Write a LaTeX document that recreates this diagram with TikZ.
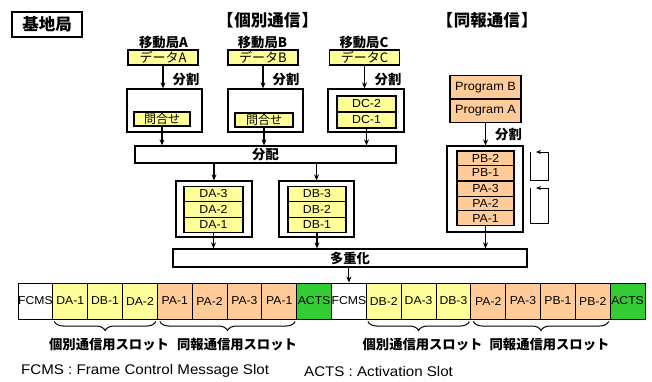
\documentclass[tikz,border=0pt]{standalone}
\usepackage{fontspec}
\setmainfont{Liberation Sans}[FakeStretch=1.06]
\newfontfamily\jp{Noto Sans CJK JP}
\newfontfamily\lgfont{Liberation Sans}[FakeStretch=1.08]
\usetikzlibrary{arrows.meta,decorations.pathreplacing,calc}
\definecolor{yel}{HTML}{FFFF99}
\definecolor{pch}{HTML}{FFCC99}
\definecolor{grn}{HTML}{33CC33}
\begin{document}
\begin{tikzpicture}[x=1pt,y=-1pt,
  bx/.style={draw, line width=1.3pt, inner sep=0pt, anchor=center},
  ybx/.style={bx, fill=yel},
  pbx/.style={bx, fill=pch},
  lab/.style={inner sep=0pt, font=\jp\bfseries\fontsize{13.3}{13.3}\selectfont},
  ttl/.style={inner sep=0pt, font=\jp\bfseries\fontsize{16.5}{16.5}\selectfont},
  jpin/.style={font=\jp\fontsize{13}{13}\selectfont},
  ltin/.style={font=\fontsize{11.6}{11.6}\selectfont},
  arr/.style={line width=1.1pt, -{Stealth[length=6pt,width=5pt]}},
  loopline/.style={line width=1pt, -{Stealth[length=5pt,width=4pt]}},
  slot/.style={draw, line width=1pt, inner sep=0pt, minimum width=34.83pt, minimum height=36pt, font=\fontsize{11.5}{11.5}\selectfont},
  brc/.style={decorate, decoration={brace, mirror, amplitude=9pt}, line width=1pt},
  ]
\useasboundingbox (0,0) rectangle (652,381);

% headings
\node[bx, minimum width=70pt, minimum height=25pt, font=\jp\bfseries\fontsize{16.5}{16.5}\selectfont] (base) at (47,24.5) {基地局};
\node[ttl] (t1) at (267.5,20) {【\kern1pt個別通信\kern1pt】};
\node[ttl] (t2) at (487,20) {【\kern1pt同報通信\kern1pt】};

% mobile stations
\node[lab] (mA) at (163.5,43) {移動局A};
\node[lab] (mB) at (262.5,43) {移動局B};
\node[lab] (mC) at (364,43) {移動局C};

\node[ybx, jpin, minimum width=70pt, minimum height=15pt] (dA) at (163,57.5) {データA};
\node[ybx, jpin, minimum width=70pt, minimum height=15pt] (dB) at (263,57.5) {データB};
\node[ybx, jpin, minimum width=70pt, minimum height=15pt] (dC) at (364.5,57.5) {データC};

\node[bx, minimum width=75pt, minimum height=43pt] (oA) at (164.5,110.5) {};
\node[bx, minimum width=75pt, minimum height=43pt] (oB) at (265.5,110.5) {};
\node[bx, minimum width=76pt, minimum height=43pt] (oC) at (366,110.5) {};

\node[ybx, font=\jp\fontsize{12}{12}\selectfont, minimum width=56pt, minimum height=14pt] (qA) at (162,119) {問合せ};
\node[ybx, font=\jp\fontsize{12}{12}\selectfont, minimum width=58pt, minimum height=14pt] (qB) at (264,120) {問合せ};
\node[ybx, ltin, minimum width=59pt, minimum height=16pt] (c2) at (366.5,104) {DC-2};
\node[ybx, ltin, minimum width=59pt, minimum height=16pt] (c1) at (366.5,120) {DC-1};

\draw[arr] (dA.south) -- (dA.south |- oA.north);
\draw[arr] (dB.south) -- (dB.south |- oB.north);
\draw[arr] (dC.south) -- (dC.south |- oC.north);
\node[lab] (sA) at (186,80) {分割};
\node[lab] (sB) at (286,80) {分割};
\node[lab] (sC) at (388,80) {分割};

% distribution
\node[bx, lab, minimum width=261pt, minimum height=17pt] (dist) at (265.5,154.5) {分配};
\draw[arr] (qA.south) -- (qA.south |- dist.north);
\draw[arr] (qB.south) -- (qB.south |- dist.north);
\draw[arr] (c1.south) -- (c1.south |- dist.north);

% DA / DB queues
\node[bx, minimum width=76pt, minimum height=56pt] (oDA) at (214,209) {};
\node[ybx, ltin, minimum width=59pt, minimum height=15.5pt] (a3) at (213.5,194) {DA-3};
\node[ybx, ltin, minimum width=59pt, minimum height=15.5pt] (a2) at (213.5,209.5) {DA-2};
\node[ybx, ltin, minimum width=59pt, minimum height=15.5pt] (a1) at (213.5,225) {DA-1};
\node[bx, minimum width=75pt, minimum height=56pt] (oDB) at (316.5,209) {};
\node[ybx, ltin, minimum width=58pt, minimum height=15.5pt] (b3) at (317,194) {DB-3};
\node[ybx, ltin, minimum width=58pt, minimum height=15.5pt] (b2) at (317,209.5) {DB-2};
\node[ybx, ltin, minimum width=58pt, minimum height=15.5pt] (b1) at (317,225) {DB-1};
\draw[arr] (dist.south -| oDA.north) -- (oDA.north);
\draw[arr] (dist.south -| oDB.north) -- (oDB.north);

% broadcast
\node[pbx, font=\fontsize{12}{12}\selectfont, minimum width=71pt, minimum height=23.5pt] (pB) at (485.5,87.25) {Program B};
\node[pbx, font=\fontsize{12}{12}\selectfont, minimum width=71pt, minimum height=23.5pt] (pA) at (485.5,110.75) {Program A};
\node[bx, minimum width=76pt, minimum height=86pt] (oP) at (485,189) {};
\draw[arr] (pA.south) -- (pA.south |- oP.north);
\node[lab] (sP) at (508.5,135) {分割};
\node[pbx, ltin, minimum width=57pt, minimum height=14.6pt] (q1) at (485.5,158.4) {PB-2};
\node[pbx, ltin, minimum width=57pt, minimum height=14.6pt] (q2) at (485.5,173.0) {PB-1};
\node[pbx, ltin, minimum width=57pt, minimum height=14.6pt] (q3) at (485.5,188.9) {PA-3};
\node[pbx, ltin, minimum width=57pt, minimum height=14.6pt] (q4) at (485.5,203.5) {PA-2};
\node[pbx, ltin, minimum width=57pt, minimum height=14.6pt] (q5) at (485.5,218.1) {PA-1};

% loops
\draw[loopline] (530,152) -- (530,180) -- (548,180) -- (548,152) -- (536,152);
\draw[loopline] (530,188) -- (530,223) -- (548,223) -- (548,188) -- (536,188);

% multiplexing
\node[bx, lab, minimum width=354pt, minimum height=18pt] (mux) at (350,258) {多重化};
\draw[arr] (a1.south) -- (a1.south |- mux.north);
\draw[arr] (b1.south) -- (b1.south |- mux.north);
\draw[arr] (q5.south) -- (q5.south |- mux.north);

% frame
\foreach \t/\c [count=\i] in {FCMS/white, DA-1/yel, DB-1/yel, DA-2/yel, PA-1/pch, PA-2/pch, PA-3/pch, PA-1/pch, ACTS/grn, FCMS/white, DB-2/yel, DA-3/yel, DB-3/yel, PA-2/pch, PA-3/pch, PB-1/pch, PB-2/pch, ACTS/grn}
  \node[slot, fill=\c] (s\i) at ({18+34.833*(\i-0.5)}, 301) {\t};
\draw[arr] (mux.south -| s10.north) -- (s10.north);

% braces
\draw[brc] ($(s2.south west)+(2,2)$) -- ($(s4.south east)+(-2,2)$);
\draw[brc] ($(s5.south west)+(3,2)$) -- ($(s8.south east)+(-2,2)$);
\draw[brc] ($(s11.south west)+(2,2)$) -- ($(s13.south east)+(-2,2)$);
\draw[brc] ($(s14.south west)+(3,2)$) -- ($(s17.south east)+(-2,2)$);
\node[lab] (g1) at (109,345) {個別通信用スロット};
\node[lab] (g2) at (237,345) {同報通信用スロット};
\node[lab] (g3) at (422.5,345) {個別通信用スロット};
\node[lab] (g4) at (549.5,345) {同報通信用スロット};

% legend
\node[anchor=west, inner sep=0pt, font=\lgfont\fontsize{14}{14}\selectfont] (lg1) at (21,371) {FCMS : Frame Control Message Slot};
\node[anchor=west, inner sep=0pt, font=\lgfont\fontsize{14}{14}\selectfont] (lg2) at (304,371) {ACTS : Activation Slot};
\end{tikzpicture}
\end{document}
